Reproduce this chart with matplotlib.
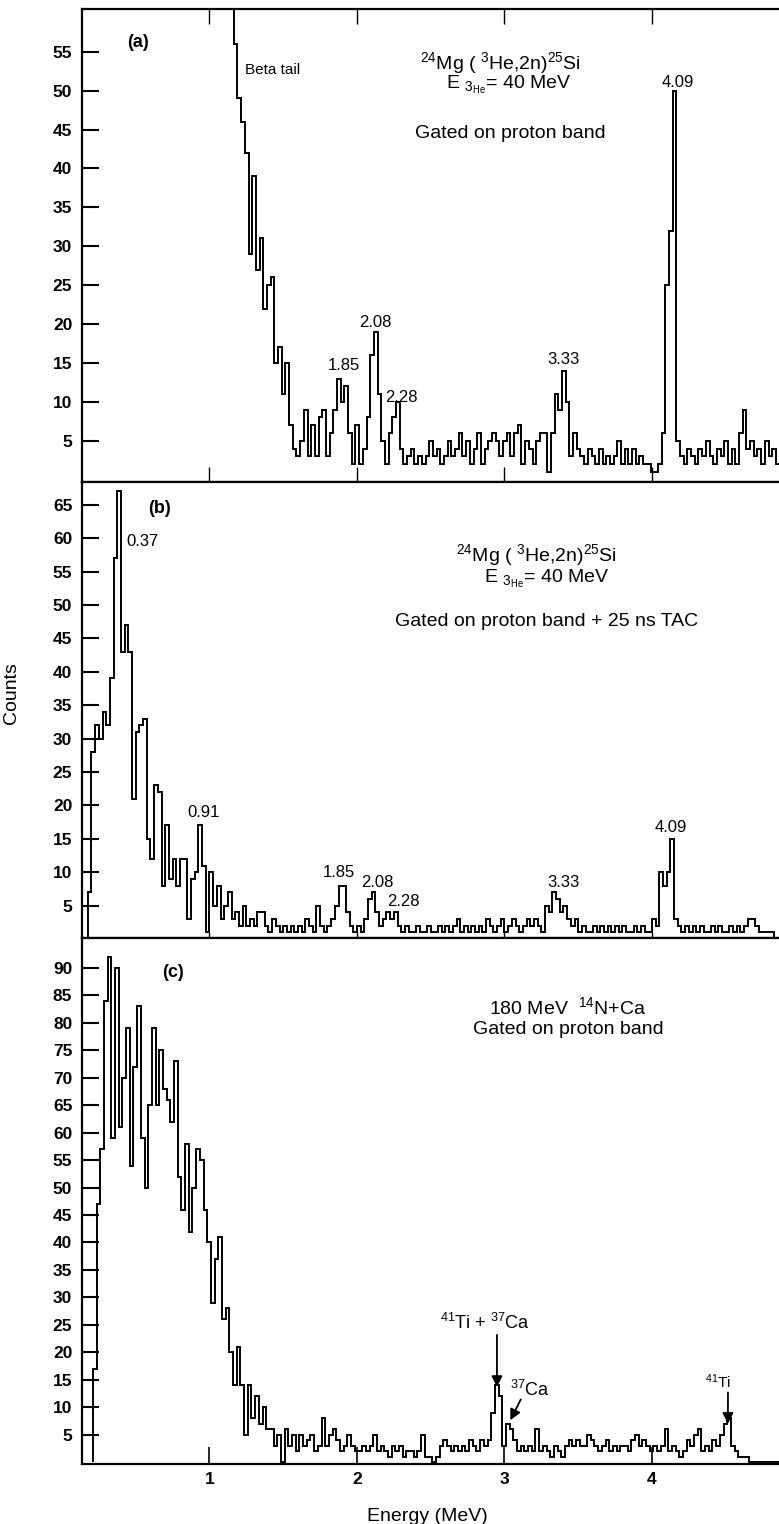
import numpy as np
import matplotlib
matplotlib.use('Agg')
import matplotlib.pyplot as plt

plt.rcParams['font.family'] = ['Liberation Sans', 'DejaVu Sans']
plt.rcParams['mathtext.default'] = 'regular'

# channel width (MeV) and first channel of each spectrum
bin_w = 0.025
start_a = 1.09
start_b = 0.175
start_c = 0.21

# (a) 24Mg(3He,2n)25Si, gated on proton band (first channels are off scale)
counts_a = [
    70, 70, 70, 56, 49, 46, 42, 29, 39, 27,
    31, 22, 25, 26, 15, 17, 11, 15, 7, 4,
    3, 5, 9, 3, 7, 3, 8, 9, 3, 6,
    9, 13, 10, 12, 6, 2, 7, 2, 4, 8,
    16, 19, 11, 5, 2, 6, 8, 10, 4, 2,
    3, 4, 2, 3, 2, 3, 5, 3, 4, 2,
    3, 5, 3, 4, 6, 3, 5, 2, 4, 6,
    2, 4, 5, 6, 5, 3, 5, 6, 3, 6,
    7, 2, 5, 4, 2, 5, 6, 6, 1, 6,
    11, 9, 14, 10, 3, 6, 4, 3, 2, 4,
    3, 2, 4, 2, 3, 2, 3, 5, 2, 4,
    2, 4, 2, 3, 2, 2, 1, 1, 2, 6,
    25, 32, 50, 5, 3, 2, 4, 3, 2, 4,
    3, 5, 3, 2, 4, 3, 5, 2, 4, 2,
    6, 9, 4, 5, 3, 4, 2, 5, 3, 4,
    2]

# (b) same reaction, gated on proton band + 25 ns TAC
counts_b = [
    7, 28, 32, 30, 34, 32, 39, 57, 67, 43,
    47, 43, 21, 31, 32, 33, 15, 12, 23, 22,
    8, 17, 9, 12, 8, 12, 12, 3, 9, 10,
    17, 11, 1, 10, 5, 8, 3, 5, 7, 3,
    4, 2, 5, 2, 3, 2, 4, 4, 2, 1,
    3, 2, 1, 2, 1, 2, 1, 2, 1, 3,
    2, 1, 5, 2, 1, 2, 3, 5, 8, 8,
    4, 2, 1, 2, 1, 3, 6, 7, 4, 2,
    3, 4, 3, 4, 2, 1, 2, 1, 1, 2,
    1, 1, 2, 1, 1, 2, 1, 2, 1, 2,
    3, 1, 2, 1, 2, 1, 2, 1, 3, 2,
    1, 2, 3, 1, 2, 3, 2, 1, 2, 3,
    2, 3, 2, 1, 5, 4, 7, 6, 4, 5,
    3, 2, 3, 1, 2, 1, 1, 2, 1, 2,
    1, 2, 1, 2, 1, 2, 1, 1, 2, 1,
    2, 1, 1, 3, 2, 10, 8, 10, 15, 3,
    2, 1, 2, 1, 2, 1, 2, 1, 1, 2,
    1, 2, 1, 1, 2, 1, 2, 1, 2, 3,
    3, 2, 1, 1, 1, 1, 0, 0]

# (c) 180 MeV 14N + Ca, gated on proton band
counts_c = [
    17, 47, 57, 84, 92, 59, 90, 61, 70, 79,
    54, 72, 83, 59, 50, 65, 79, 65, 75, 68,
    66, 62, 73, 52, 46, 58, 42, 50, 57, 55,
    46, 40, 29, 37, 41, 26, 28, 20, 14, 21,
    14, 5, 14, 8, 12, 7, 10, 6, 6, 3,
    5, 0, 6, 3, 5, 2, 5, 3, 4, 5,
    2, 3, 8, 3, 5, 6, 4, 2, 3, 5,
    3, 2, 2, 3, 2, 3, 5, 2, 3, 2,
    1, 3, 2, 3, 1, 2, 2, 1, 2, 5,
    1, 1, 0, 1, 3, 4, 3, 2, 3, 2,
    3, 2, 4, 3, 2, 4, 3, 4, 9, 14,
    12, 3, 7, 6, 4, 2, 3, 2, 3, 2,
    6, 2, 3, 2, 1, 3, 2, 1, 3, 4,
    3, 4, 3, 3, 5, 4, 3, 2, 3, 4,
    2, 3, 2, 3, 3, 2, 4, 5, 3, 4,
    3, 2, 3, 2, 3, 6, 2, 3, 2, 1,
    2, 4, 3, 5, 6, 2, 3, 2, 4, 3,
    5, 7, 8, 3, 2, 1, 1, 1, 0, 0,
    0, 0, 0, 0, 0, 0]

yticks_a = list(range(5, 60, 5))
yticks_b = list(range(5, 70, 5))
yticks_c = list(range(5, 95, 5))
xticks = [1, 2, 3, 4]

W, H = 779, 1524
fig = plt.figure(figsize=(W / 100, H / 100), dpi=100)


def box(top, bottom):
    return [82 / W, 1 - bottom / H, 1 - 82 / W, (bottom - top) / H]


ax_a = fig.add_axes(box(9, 482))
ax_b = fig.add_axes(box(482, 938), sharex=ax_a)
ax_c = fig.add_axes(box(938, 1464), sharex=ax_a)

for ax, counts, start, base in [(ax_a, counts_a, start_a, None),
                                (ax_b, counts_b, start_b, 0),
                                (ax_c, counts_c, start_c, 0)]:
    edges = start + bin_w * np.arange(len(counts) + 1)
    ax.stairs(counts, edges, baseline=base, color='black', lw=1.4)
    ax.spines['right'].set_visible(False)
    for s in ['left', 'top', 'bottom']:
        ax.spines[s].set_linewidth(1.6)
    ax.tick_params(axis='y', direction='in', length=12, width=1.5,
                   labelsize=12.5, pad=7)

ax_a.set_xlim(0.136, 4.861)
ax_a.set_ylim(-0.3, 60.5)
ax_b.set_ylim(0.16, 68.4)
ax_c.set_ylim(-0.3, 95.4)
ax_a.set_yticks(yticks_a)
ax_b.set_yticks(yticks_b)
ax_c.set_yticks(yticks_c)
ax_c.set_xticks(xticks)

for ax in (ax_a, ax_b, ax_c):
    for lab in ax.get_yticklabels():
        lab.set_fontweight('bold')

ax_a.tick_params(axis='x', which='both', top=True, bottom=True, direction='in',
                 length=11, width=1.0, labelbottom=False)
ax_b.tick_params(axis='x', direction='inout', length=8, width=1.0,
                 labelbottom=False)
ax_c.tick_params(axis='x', direction='in', length=12, width=1.2,
                 labelsize=12.5, pad=6)
for lab in ax_c.get_xticklabels():
    lab.set_fontweight('bold')

ax_b.set_ylabel('Counts', fontsize=14)
ax_b.yaxis.set_label_coords(-0.089, 0.537)
ax_c.set_xlabel('Energy (MeV)', fontsize=14)
ax_c.xaxis.set_label_coords(0.495, -0.084)

pk = dict(fontsize=12, ha='center', va='center')
big = dict(fontsize=14, ha='center', va='center')

# panel (a)
ax_a.text(0.515, 56.2, '(a)', fontsize=13, fontweight='bold', ha='center', va='center')
ax_a.text(1.241, 52.6, 'Beta tail', fontsize=11, ha='left', va='center')
ax_a.text(2.976, 53.6, r'$^{24}$Mg ( $^{3}$He,2n)$^{25}$Si', **big)
ax_a.text(3.031, 50.8, r'E $_{3_{He}}$= 40 MeV', **big)
ax_a.text(3.037, 44.5, 'Gated on proton band', **big)
for x, y, s in [(1.912, 14.7, '1.85'), (2.122, 20.2, '2.08'), (2.298, 10.6, '2.28'),
                (3.397, 15.4, '3.33'), (4.176, 51.1, '4.09')]:
    ax_a.text(x, y, s, **pk)

# panel (b)
ax_b.text(0.658, 64.5, '(b)', fontsize=13, fontweight='bold', ha='center', va='center')
ax_b.text(0.434, 59.5, '0.37', fontsize=12, ha='left', va='center')
ax_b.text(3.22, 57.5, r'$^{24}$Mg ( $^{3}$He,2n)$^{25}$Si', **big)
ax_b.text(3.288, 53.9, r'E $_{3_{He}}$= 40 MeV', **big)
ax_b.text(3.288, 47.5, 'Gated on proton band + 25 ns TAC', **big)
for x, y, s in [(0.963, 18.9, '0.91'), (1.878, 9.9, '1.85'), (2.136, 8.4, '2.08'),
                (2.312, 5.6, '2.28'), (3.397, 8.4, '3.33'), (4.129, 16.7, '4.09')]:
    ax_b.text(x, y, s, **pk)

# panel (c)
ax_c.text(0.753, 89.2, '(c)', fontsize=13, fontweight='bold', ha='center', va='center')
ax_c.text(3.43, 82.8, r'180 MeV  $^{14}$N+Ca', **big)
ax_c.text(3.43, 78.8, 'Gated on proton band', **big)
ax_c.text(2.868, 25.4, r'$^{41}$Ti + $^{37}$Ca', fontsize=13, ha='center', va='center')
ax_c.text(3.173, 13.2, r'$^{37}$Ca', fontsize=13, ha='center', va='center')
ax_c.text(4.447, 14.6, r'$^{41}$Ti', fontsize=11, ha='center', va='center')
arw = dict(arrowstyle='-|>', color='black', lw=1.3, mutation_scale=16)
ax_c.annotate('', xy=(2.949, 13.2), xytext=(2.949, 23.7), arrowprops=arw)
ax_c.annotate('', xy=(3.031, 7.2), xytext=(3.119, 11.9), arrowprops=arw)
ax_c.annotate('', xy=(4.515, 6.5), xytext=(4.515, 13.2), arrowprops=arw)

fig.savefig('out.png', dpi=100)
